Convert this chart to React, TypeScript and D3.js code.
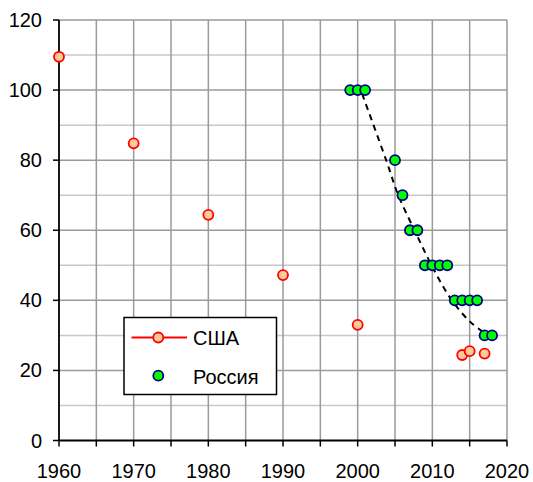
import React from "react";
import * as d3 from "d3";

const usaYears = [1960, 1970, 1980, 1990, 2000, 2014, 2015, 2017];
const usaValues = [109.5, 84.8, 64.4, 47.2, 33.0, 24.4, 25.5, 24.8];

const rusYears = [1999, 2000, 2001, 2005, 2006, 2007, 2008, 2009, 2010, 2011, 2012, 2013, 2014, 2015, 2016, 2017, 2018];
const rusValues = [100, 100, 100, 80, 70, 60, 60, 50, 50, 50, 50, 40, 40, 40, 40, 30, 30];

const trendYears = [2000.6, 2003.9, 2005.4, 2007.7, 2009.9, 2012.3, 2015.0, 2017.7];
const trendValues = [98.9, 79.5, 70.2, 59.6, 50.0, 41.0, 34.0, 29.6];

const xTicks = [1960, 1970, 1980, 1990, 2000, 2010, 2020];
const yTicks = [0, 20, 40, 60, 80, 100, 120];
const legendLabels = ["США", "Россия"];

const W = 533;
const H = 482;

export default function App() {
  const x = d3.scaleLinear().domain([1960, 2020]).range([59, 507]);
  const y = d3.scaleLinear().domain([0, 120]).range([440.5, 20]);

  const vGrid = d3.range(1965, 2021, 5);
  const hMinor = d3.range(10, 120, 20);
  const hMajor = d3.range(20, 121, 20);
  const xMinorTicks = d3.range(1960, 2021, 5);

  const trendLine = d3
    .line<number>()
    .x((_, i) => x(trendYears[i]))
    .y((d) => y(d))
    .curve(d3.curveCatmullRom)(trendValues);

  const font = "Arial, 'Liberation Sans', sans-serif";

  return (
    <svg
      width={W}
      height={H}
      style={{ position: "absolute", left: 0, top: 0, background: "#fff" }}
      fontFamily={font}
    >
      <rect x={0} y={0} width={W} height={H} fill="#fff" />
      {/* minor horizontal grid */}
      {hMinor.map((v) => (
        <line key={"hm" + v} x1={x(1960)} x2={x(2020)} y1={y(v)} y2={y(v)} stroke="#c8c8c8" strokeWidth={1.5} />
      ))}
      {/* vertical grid */}
      {vGrid.map((v) => (
        <line key={"v" + v} x1={x(v)} x2={x(v)} y1={y(0)} y2={y(120)} stroke="#9a9a9a" strokeWidth={1.5} />
      ))}
      {/* major horizontal grid */}
      {hMajor.map((v) => (
        <line key={"hM" + v} x1={x(1960)} x2={x(2020)} y1={y(v)} y2={y(v)} stroke="#9a9a9a" strokeWidth={1.5} />
      ))}
      {/* axes */}
      <line x1={x(1960)} x2={x(1960)} y1={y(0)} y2={y(120)} stroke="#000" strokeWidth={1.8} />
      <line x1={x(1960)} x2={x(2020)} y1={y(0)} y2={y(0)} stroke="#000" strokeWidth={1.8} />
      {yTicks.map((v) => (
        <g key={"yt" + v}>
          <line x1={x(1960) - 6} x2={x(1960)} y1={y(v)} y2={y(v)} stroke="#000" strokeWidth={1.5} />
          <text x={42} y={y(v) + 7} textAnchor="end" fontSize={20} fill="#000">
            {v}
          </text>
        </g>
      ))}
      {xMinorTicks.map((v) => (
        <line key={"xt" + v} x1={x(v)} x2={x(v)} y1={y(0)} y2={y(0) + 6} stroke="#000" strokeWidth={1.5} />
      ))}
      {xTicks.map((v) => (
        <text key={"xl" + v} x={x(v)} y={477.5} textAnchor="middle" fontSize={20} fill="#000">
          {v}
        </text>
      ))}
      {/* trend */}
      <path d={trendLine || ""} fill="none" stroke="#000" strokeWidth={2} strokeDasharray="6,5" />
      {/* USA */}
      {usaYears.map((yr, i) => (
        <circle key={"u" + i} cx={x(yr)} cy={y(usaValues[i])} r={5} fill="#ffcc99" stroke="#ff0000" strokeWidth={1.8} />
      ))}
      {/* Russia */}
      {rusYears.map((yr, i) => (
        <circle key={"r" + i} cx={x(yr)} cy={y(rusValues[i])} r={5} fill="#00ff00" stroke="#000080" strokeWidth={1.8} />
      ))}
      {/* legend */}
      <rect x={124} y={317.5} width={152.5} height={77} fill="#fff" stroke="#000" strokeWidth={1.5} />
      <line x1={131.5} x2={187} y1={337.5} y2={337.5} stroke="#ff0000" strokeWidth={1.8} />
      <circle cx={158.3} cy={337.5} r={5} fill="#ffcc99" stroke="#ff0000" strokeWidth={1.8} />
      <text x={193} y={345} fontSize={20} fill="#000">
        {legendLabels[0]}
      </text>
      <circle cx={158.3} cy={375.7} r={5} fill="#00ff00" stroke="#000080" strokeWidth={1.8} />
      <text x={193} y={383.5} fontSize={20} fill="#000">
        {legendLabels[1]}
      </text>
    </svg>
  );
}
